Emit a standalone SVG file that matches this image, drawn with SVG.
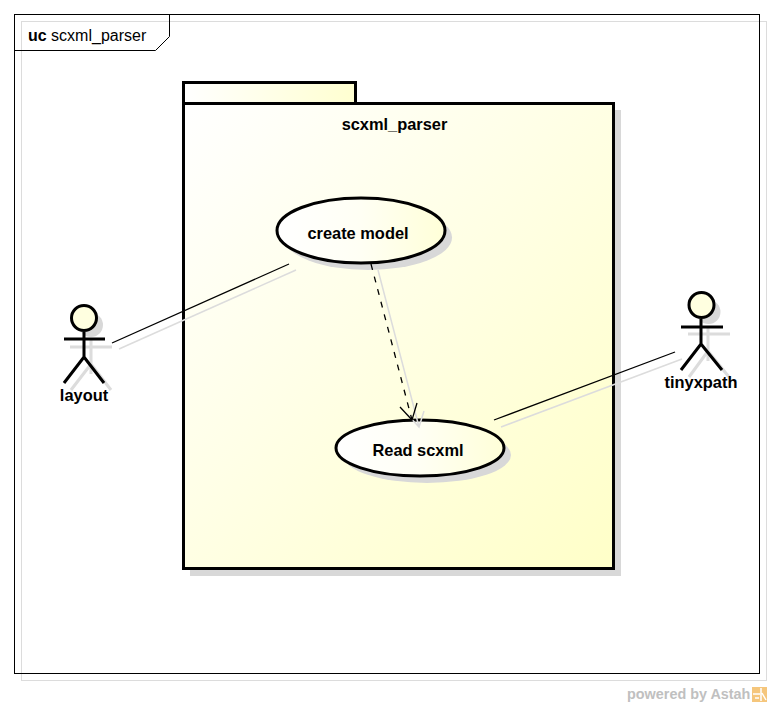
<svg xmlns="http://www.w3.org/2000/svg" width="772" height="707" viewBox="0 0 772 707">
<style>
text{font-family:"Liberation Sans",Arial,sans-serif;fill:#000}
.b{font-weight:bold;font-size:16.4px}
.shl{fill:none;stroke:#dcdcdc;stroke-width:1.5}
.shf{fill:#d8d8d8;stroke:none}
.o{stroke:#000;stroke-width:3}
.lim{fill:none;stroke:#000;stroke-width:3}
.slim{fill:none;stroke:#dcdcdc;stroke-width:3}
</style>
<defs>
<linearGradient id="g1" x1="0" y1="0" x2="1" y2="1"><stop offset="0" stop-color="#fff"/><stop offset="1" stop-color="#ffffc8"/></linearGradient>
<linearGradient id="g2" x1="0" y1="0" x2="1" y2="0"><stop offset="0" stop-color="#fff"/><stop offset="0.5" stop-color="#fffff4"/><stop offset="1" stop-color="#ffffd8"/></linearGradient>
<linearGradient id="g4" x1="0" y1="0" x2="1" y2="0"><stop offset="0" stop-color="#fff"/><stop offset="1" stop-color="#ffffd0"/></linearGradient>
</defs>
<rect width="772" height="707" fill="#fff"/>
<g id="frame">
<rect x="21.500" y="21.500" width="745" height="659" fill="none" stroke="#dcdcdc" stroke-width="1"/>
<rect x="14.500" y="14.500" width="745" height="659" fill="none" stroke="#000" stroke-width="1"/>
<path d="M14.500 50.500H155.500L169.500 36.500V14.500" fill="none" stroke="#000" stroke-width="1"/>
<text x="28" y="41" font-size="16"><tspan font-weight="bold">uc</tspan> scxml_parser</text>
</g>
<g id="package">
<rect x="190" y="110" width="431" height="466" class="shf"/>
<rect x="183.500" y="82.500" width="172" height="21" fill="url(#g4)" stroke="#000" stroke-width="3"/>
<rect x="183.500" y="103.500" width="430" height="465" fill="url(#g1)" stroke="#000" stroke-width="3"/>
<text x="394.500" y="130" class="b" text-anchor="middle">scxml_parser</text>
</g>
<g id="create_model">
<ellipse cx="368" cy="237.500" rx="84" ry="32.500" class="shf"/>
<ellipse cx="361" cy="230.500" rx="84" ry="32.500" fill="url(#g2)" class="o"/>
<text x="358" y="239" class="b" text-anchor="middle">create model</text>
</g>
<g id="read_scxml">
<ellipse cx="427" cy="455" rx="84" ry="28" class="shf"/>
<ellipse cx="420" cy="448" rx="84" ry="28" fill="url(#g2)" class="o"/>
<text x="418" y="456" class="b" text-anchor="middle">Read scxml</text>
</g>
<g id="layout">
<circle cx="91" cy="325" r="12" class="shf"/>
<path d="M91 339V374M70 347H112M71 390L91 364L111 390" class="slim"/>
<path d="M84 332V357M64 339H105M64 383L84 357L104 383" class="lim"/>
<circle cx="84" cy="318" r="12.500" fill="#ffffe0" stroke="#000" stroke-width="3"/>
<text x="84" y="401" class="b" text-anchor="middle">layout</text>
</g>
<g id="tinyxpath">
<circle cx="708.500" cy="312" r="12" class="shf"/>
<path d="M708 326V361M688 334H730M689 377L708 351L729 377" class="slim"/>
<path d="M701 319V344M681 327H723M681 370L701 344L722 370" class="lim"/>
<circle cx="701.500" cy="305" r="12.500" fill="#ffffe0" stroke="#000" stroke-width="3"/>
<text x="701" y="388" class="b" text-anchor="middle">tinyxpath</text>
</g>
<g id="connectors">
<path d="M119 349L296 270" class="shl"/>
<path d="M501 427L682 359" class="shl"/>
<path d="M378 270L419 427M407 414L419 427L424 411" class="shl"/>
<path d="M112 343L289 264" fill="none" stroke="#000" stroke-width="1.300"/>
<path d="M494 420L675 352" fill="none" stroke="#000" stroke-width="1.300"/>
<path d="M371 264L412 420" fill="none" stroke="#000" stroke-width="1.300" stroke-dasharray="6 7"/>
<path d="M400 407L412 420L417 403" fill="none" stroke="#000" stroke-width="1.300"/>
</g>
<g id="watermark">
<text x="627" y="699" font-size="14.400" font-weight="bold" style="fill:#c0c0c0">powered by Astah</text>
<rect x="752" y="687" width="15" height="15" fill="#f5c67c"/>
<path d="M753 694H760M761 688V701M755 698H759M762 693L766 700" fill="none" stroke="#fff" stroke-width="1.500"/>
</g>
</svg>
